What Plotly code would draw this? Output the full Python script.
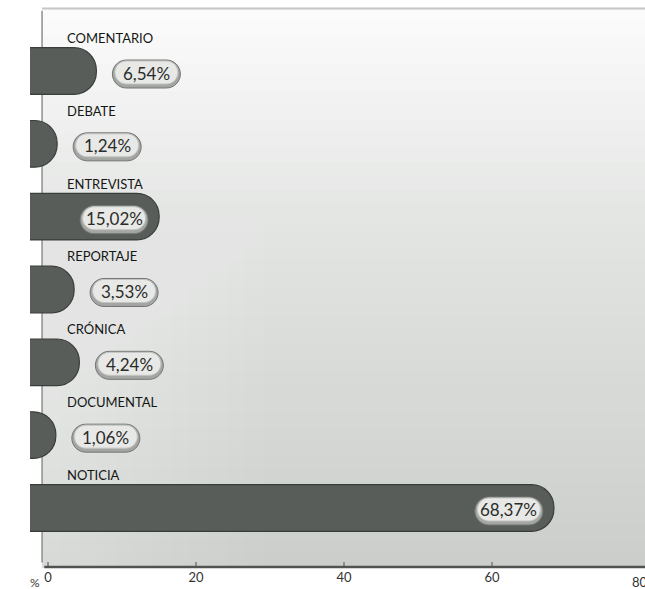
import plotly.graph_objects as go

categories = ["COMENTARIO", "DEBATE", "ENTREVISTA", "REPORTAJE", "CRÓNICA", "DOCUMENTAL", "NOTICIA"]
values = [6.54, 1.24, 15.02, 3.53, 4.24, 1.06, 68.37]
tick_vals = [0, 20, 40, 60, 80]
tick_text = ["0", "20", "40", "60", "80"]

X0 = -2.43
XMAX = 80.68
PX = 7.4
BASE = X0 - 4
ypos = list(range(len(categories)))

FONT = "Lato"

fig = go.Figure()

fig.add_trace(go.Bar(
    y=ypos,
    x=[v - BASE for v in values],
    base=[BASE] * len(values),
    orientation="h",
    width=0.64,
    marker=dict(color="#585d59", line=dict(color="#3a3e3b", width=1.2)),
    cliponaxis=True,
    hoverinfo="skip",
    showlegend=False,
))

shapes = []

def lerp(c1, c2, t):
    return tuple(int(round(a + (b - a) * t)) for a, b in zip(c1, c2))

top_c = (252, 252, 252)
mid_c = (226, 228, 226)
bot_c = (203, 206, 203)
nb = 40
for k in range(nb):
    f0 = k / nb
    f1 = (k + 1) / nb
    t = (f0 + f1) / 2
    if t < 0.4:
        c = lerp(top_c, mid_c, t / 0.4)
    else:
        c = lerp(mid_c, bot_c, (t - 0.4) / 0.6)
    shapes.append(dict(type="rect", xref="x", yref="paper", x0=-0.8, x1=XMAX + 2,
                       y0=1 - f1, y1=1 - f0 + 0.001, fillcolor="rgb(%d,%d,%d)" % c,
                       line=dict(width=0), layer="below"))
for k in range(12):
    shapes.append(dict(type="rect", xref="x", yref="paper", x0=-0.8, x1=-0.8 + (k + 1) * 2.5,
                       y0=0, y1=0.85, fillcolor="rgba(255,255,255,0.035)",
                       line=dict(width=0), layer="below"))
shapes.append(dict(type="line", xref="x", yref="paper", x0=-0.8, x1=XMAX + 2, y0=0.999, y1=0.999,
                   line=dict(color="#c4c6c4", width=2), layer="below"))
shapes.append(dict(type="line", xref="x", yref="paper", x0=-0.8, x1=-0.8, y0=0.01, y1=0.995,
                   line=dict(color="#8d908d", width=1.5), layer="below"))
shapes.append(dict(type="line", xref="x", yref="paper", x0=-0.5, x1=XMAX + 2, y0=0.002, y1=0.002,
                   line=dict(color="#505350", width=2.5), layer="above"))

annotations = []
W, H = 66, 26
r = H / 2
a = W / 2 - r

def pill_path(dx, dy, grow=0):
    rr = r + grow
    aa = a
    kk = 0.552 * rr
    def p(x, y):
        return "%.2f,%.2f" % (x + dx, y + dy)
    return ("M " + p(-aa, -rr) + " L " + p(aa, -rr) +
            " C " + p(aa + kk, -rr) + " " + p(aa + rr, -kk) + " " + p(aa + rr, 0) +
            " C " + p(aa + rr, kk) + " " + p(aa + kk, rr) + " " + p(aa, rr) +
            " L " + p(-aa, rr) +
            " C " + p(-aa - kk, rr) + " " + p(-aa - rr, kk) + " " + p(-aa - rr, 0) +
            " C " + p(-aa - rr, -kk) + " " + p(-aa - kk, -rr) + " " + p(-aa, -rr) + " Z")

for i, (cat, v) in enumerate(zip(categories, values)):
    bar_len_px = (v - X0) * PX
    dx = -45 if bar_len_px > 110 else 50
    dy = -2
    shapes.append(dict(type="path", xref="x", yref="y", xsizemode="pixel", ysizemode="pixel",
                       xanchor=v, yanchor=i, path=pill_path(dx, dy - 1, 1),
                       fillcolor="#a3a6a3", line=dict(color="#737673", width=1), layer="above"))
    shapes.append(dict(type="path", xref="x", yref="y", xsizemode="pixel", ysizemode="pixel",
                       xanchor=v, yanchor=i, path=pill_path(dx, dy + 0.5, -1.5),
                       fillcolor="#e8e9e7", line=dict(color="#c2c5c2", width=1), layer="above"))
    annotations.append(dict(x=v, y=i, xref="x", yref="y", xshift=dx, yshift=dy,
                            text=f"{v:.2f}".replace(".", ",") + "%", showarrow=False,
                            font=dict(family=FONT, size=17, color="#2a2c2a"),
                            xanchor="center", yanchor="middle"))
    annotations.append(dict(x=0, y=i, xref="x", yref="y", xshift=17, yshift=33,
                            text=cat, showarrow=False,
                            font=dict(family=FONT, size=13, color="#141614"),
                            xanchor="left", yanchor="middle"))

annotations.append(dict(x=-1.75, y=0, xref="x", yref="paper", yshift=-14, text="%",
                        showarrow=False, font=dict(family=FONT, size=12, color="#333333"),
                        xanchor="center", yanchor="middle"))
annotations.append(dict(x=tick_vals[-1], y=0, xref="x", yref="paper", yshift=-14,
                        text=tick_text[-1], showarrow=False,
                        font=dict(family=FONT, size=13, color="#333333"),
                        xanchor="center", yanchor="middle"))

fig.update_layout(
    width=645, height=589,
    margin=dict(l=30, r=0, t=8, b=21),
    paper_bgcolor="white", plot_bgcolor="white",
    shapes=shapes, annotations=annotations,
    bargap=0.36, barcornerradius="48%",
    xaxis=dict(range=[X0, XMAX], tickvals=tick_vals[:-1], ticktext=tick_text[:-1],
               ticks="inside", ticklen=6, tickcolor="#8c8f8c", tickwidth=1.5,
               showline=False, showgrid=False, mirror=False,
               zeroline=False, tickfont=dict(family=FONT, size=13, color="#333333"),
               automargin=False, fixedrange=True),
    yaxis=dict(range=[6.824, -0.865], showticklabels=False, showgrid=False, showline=False,
               mirror=False, zeroline=False, ticks="", automargin=False, fixedrange=True),
)

fig.write_html("out.html", config={"displayModeBar": False})
